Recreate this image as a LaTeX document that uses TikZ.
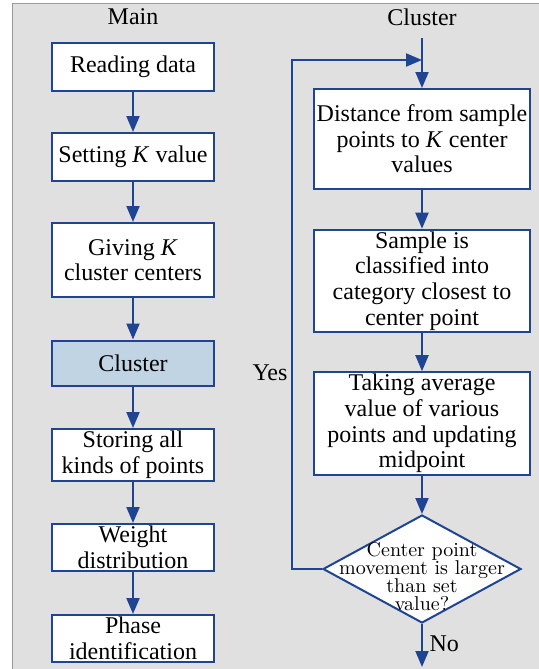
\documentclass[tikz,border=0pt]{standalone}
\usepackage{fontspec}
\setmainfont{Liberation Serif}
\newfontfamily\lmfont{Latin Modern Roman}
\usetikzlibrary{shapes,arrows.meta}
\definecolor{lineblue}{RGB}{31,68,146}
\definecolor{panelgray}{RGB}{224,224,224}
\definecolor{clusterblue}{RGB}{193,212,227}

\begin{document}
\begin{tikzpicture}[x=0.5pt, y=-0.5pt,
  box/.style={draw=lineblue, line width=1pt, fill=white, align=center, inner sep=1pt, font=\fontsize{12}{12.8}\selectfont},
  mainbox/.style={box, minimum width=81pt},
  clusbox/.style={box, minimum width=108pt, minimum height=50pt},
  decision/.style={diamond, draw=lineblue, line width=1pt, fill=white, inner sep=0pt, minimum width=99pt, minimum height=54pt},
  flow/.style={draw=lineblue, line width=1pt, -{Triangle[width=6.5pt,length=8pt]}},
  lbl/.style={font=\fontsize{12}{12.8}\selectfont}]
\useasboundingbox (0,0) rectangle (538,669);
% panel
\draw [fill=panelgray, draw=gray!80] (12,3) rectangle (540,672);
% main flow
\node[lbl] (mainlbl) at (133,17) {Main};
\node[mainbox, minimum height=24pt] (read) at (133,67) {Reading data};
\node[mainbox, minimum height=24pt] (setk) at (133,157) {Setting \textit{K} value};
\node[mainbox, minimum height=37pt] (givek) at (133,260) {Giving \textit{K}\\cluster centers};
\node[mainbox, minimum height=22.5pt, fill=clusterblue] (clus) at (133,363) {Cluster};
\node[mainbox, minimum height=26pt] (store) at (133,455) {Storing all\\kinds of points};
\node[mainbox, minimum height=23.5pt] (weight) at (133,547.5) {Weight\\distribution};
\node[mainbox, minimum height=23.5pt] (phase) at (133,638.5) {Phase\\identification};
\foreach \a/\b in {read/setk, setk/givek, givek/clus, clus/store, store/weight, weight/phase} {
    \draw[flow] (\a) -- (\b);
}
% cluster flow
\node[lbl] (cluslbl) at (422,17) {Cluster};
\coordinate (start) at (422,38);
\coordinate (join) at (422,60);
\coordinate (loopc) at (292,60);
\coordinate (stop) at (422,667);
\node[clusbox] (dist) at (422,139) {Distance from sample\\points to \textit{K} center\\values};
\node[clusbox] (sample) at (422,281) {Sample is\\classified into\\category closest to\\center point};
\node[clusbox] (avg) at (422,423.5) {Taking average\\value of various\\points and updating\\midpoint};
\node[decision] (dec) at (422,569) {};
\node[align=center, font=\lmfont\fontsize{10}{9}\selectfont] (dectext) at (422,577) {Center point\\movement is larger\\than set\\value?};
\draw[flow] (start) -- (dist);
\foreach \a/\b in {dist/sample, sample/avg, avg/dec} {
    \draw[flow] (\a) -- (\b);
}
\draw[flow] (dec.south) -- node[right, lbl, pos=0.45] (nolbl) {No} (stop);
\draw[flow] (dec.west) -| (loopc) -- (join);
\node[lbl] (yeslbl) at (270,373) {Yes};
\end{tikzpicture}
\end{document}
